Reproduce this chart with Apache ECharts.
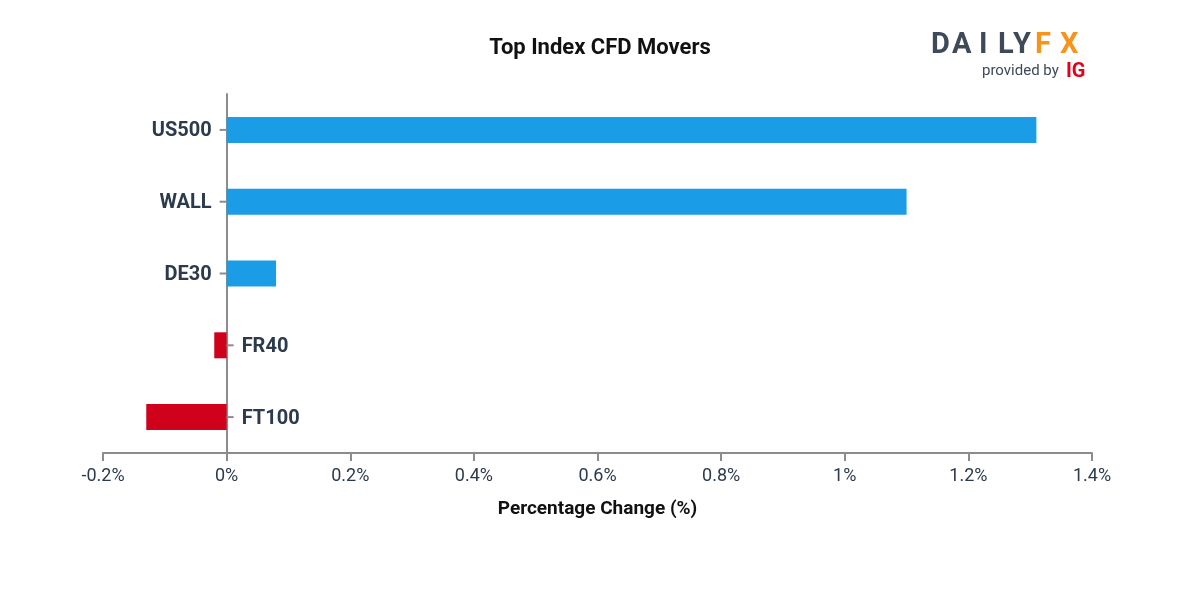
<!DOCTYPE html>
<html>
<head>
<meta charset="utf-8">
<script src="https://cdn.jsdelivr.net/npm/echarts@6/dist/echarts.min.js"></script>
<style>html,body{margin:0;padding:0;background:#fff}#c{width:1200px;height:600px}</style>
</head>
<body>
<div id="c"></div>
<script>
const categories = ['US500', 'WALL', 'DE30', 'FR40', 'FT100'];
const values = [1.31, 1.10, 0.08, -0.02, -0.13];
const xTicks = { min: -0.2, max: 1.4, interval: 0.2 };

const BLUE = '#1a9de6', RED = '#d0021b', TXT = '#2b3a4c', AX = '#8c8c8c';
const FONT = 'Roboto';

const chart = echarts.init(document.getElementById('c'));

const rich = {
  t: { fontFamily: FONT, fontWeight: 'bold', fontSize: 20, color: TXT, padding: [3, 0, 0, 0] },
  g: { width: 8, height: 2 },
  k: { width: 7, height: 2, backgroundColor: AX }
};

chart.setOption({
  animation: false,
  title: {
    text: 'Top Index CFD Movers', left: 'center', top: 32,
    textStyle: { fontFamily: FONT, fontWeight: 'bold', fontSize: 22, color: '#111' }
  },
  grid: { left: 103, right: 108, top: 94, bottom: 147, containLabel: false },
  xAxis: {
    type: 'value', min: xTicks.min, max: xTicks.max, interval: xTicks.interval,
    name: 'Percentage Change (%)', nameLocation: 'middle', nameGap: 47,
    nameTextStyle: { fontFamily: FONT, fontWeight: 'bold', fontSize: 19, color: '#111' },
    axisLine: { show: true, onZero: false, lineStyle: { color: AX, width: 2 } },
    axisTick: { show: true, length: 8, lineStyle: { color: AX, width: 2 } },
    splitLine: { show: false },
    axisLabel: {
      fontFamily: FONT, fontSize: 18, color: TXT, margin: 14,
      formatter: v => (Math.round(v * 10) / 10) + '%'
    }
  },
  yAxis: {
    type: 'category', data: categories, inverse: true,
    axisLine: { show: true, onZero: true, lineStyle: { color: AX, width: 2 } },
    axisTick: { show: false },
    axisLabel: { show: false }
  },
  series: [{
    type: 'bar', barWidth: 26,
    data: values.map((v, i) => ({
      value: v,
      itemStyle: { color: v < 0 ? RED : BLUE },
      label: {
        show: true,
        position: v < 0 ? 'right' : 'left',
        distance: 0,
        formatter: v < 0 ? '{k|}{g|}{t|' + categories[i] + '}' : '{t|' + categories[i] + '}{g|}{k|}',
        rich: rich
      }
    }))
  }],
  graphic: [
    { type: 'text', left: 931, top: 31, style: { text: 'D', font: 'bold 29px Roboto', fill: '#3e4a59' } },
    { type: 'text', left: 952, top: 31, style: { text: 'A', font: 'bold 29px Roboto', fill: '#3e4a59' } },
    { type: 'text', left: 979, top: 31, style: { text: 'I', font: 'bold 29px Roboto', fill: '#3e4a59' } },
    { type: 'text', left: 998, top: 31, style: { text: 'L', font: 'bold 29px Roboto', fill: '#3e4a59' } },
    { type: 'text', left: 1013, top: 31, style: { text: 'Y', font: 'bold 29px Roboto', fill: '#3e4a59' } },
    { type: 'text', left: 1035, top: 31, style: { text: 'F', font: 'bold 29px Roboto', fill: '#f7941d' } },
    { type: 'text', left: 1060, top: 31, style: { text: 'X', font: 'bold 29px Roboto', fill: '#f7941d' } },
    { type: 'text', left: 982, top: 64, style: { text: 'provided by', font: '15px Roboto', fill: '#3e4a59' } },
    { type: 'text', left: 1066, top: 62, style: { text: 'IG', font: 'bold 20px Roboto', fill: '#e2001a' } }
  ]
});
</script>
</body>
</html>
